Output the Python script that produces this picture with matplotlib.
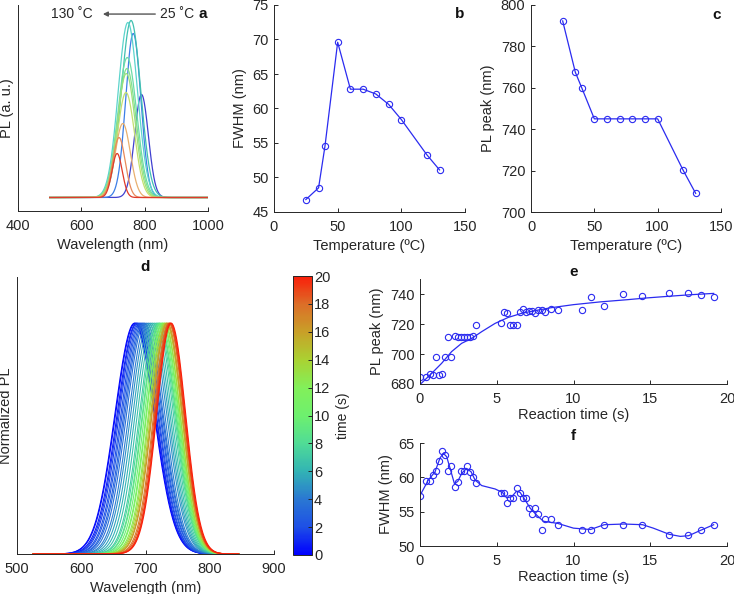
import numpy as np
import matplotlib
matplotlib.use('Agg')
import matplotlib.pyplot as plt
from matplotlib.colors import LinearSegmentedColormap, Normalize
from matplotlib.cm import ScalarMappable

plt.rcParams['font.family'] = ['Liberation Sans', 'DejaVu Sans']
plt.rcParams['font.size'] = 10

# panel a: PL spectra at different temperatures (25 C ... 130 C)
a_peak = [790, 764, 757, 747, 745, 744, 742, 741, 731, 719, 713]
a_height = [103, 164, 177, 175, 140, 129, 124, 105, 74, 60, 44]
a_fwhm = [51, 56, 72, 72, 70, 68, 66, 64, 56, 46, 38]
a_colors = ['#4040d0', '#3c7ee6', '#40c0b0', '#5cd4cc', '#6cdca8', '#80e090',
            '#9ce07c', '#c4e070', '#e8b070', '#e88a5a', '#e03a2a']

# panels b, c: FWHM and PL peak vs temperature
temp = [25, 35, 40, 50, 60, 70, 80, 90, 100, 120, 130]
fwhm_T = [46.8, 48.5, 54.5, 69.6, 62.8, 62.8, 62.1, 60.6, 58.4, 53.3, 51.1]
peak_T = [792.3, 767.5, 760.1, 745, 745, 745, 745, 745, 745, 720.3, 709]

# panel d: normalized spectra coloured by time
d_time = [0, 0.4, 0.8, 1.2, 1.6, 2.0, 2.4, 2.8, 3.2, 3.6, 4.2, 4.8, 5.4, 6.0,
          6.6, 7.2, 7.8, 8.4, 9.0, 9.8, 10.6, 11.4, 12.4, 13.4, 14.4, 15.4,
          16.4, 17.4, 18.4, 19.0, 19.5, 20.0]
d_peak = [683, 684, 686, 687, 689, 691, 693, 695, 697, 699, 702, 705, 708, 711,
          714, 717, 719, 721, 722, 724, 726, 727, 729, 730, 732, 733, 734, 736,
          737, 738, 739, 740]
d_fwhm = [72, 72, 71, 70, 70, 69, 69, 68, 68, 67, 66, 66, 65, 64, 63, 62, 62,
          61, 61, 60, 59, 59, 58, 57, 57, 56, 56, 55, 54, 53, 53, 53]

# panels e, f: reaction time series
t_rx = [0, 0.39, 0.62, 0.84, 1.03, 1.23, 1.44, 1.65, 1.85, 2.05, 2.27, 2.46,
        2.66, 2.87, 3.07, 3.28, 3.48, 3.68, 5.27, 5.47, 5.69, 5.89, 6.09, 6.29,
        6.5, 6.7, 6.9, 7.1, 7.3, 7.5, 7.71, 7.93, 8.13, 8.54, 8.96, 10.54,
        11.17, 12.01, 13.24, 14.46, 16.24, 17.48, 18.28, 19.13]
peak_t = [684.4, 685.0, 686.6, 685.7, 697.9, 685.7, 686.5, 697.9, 711.2, 697.9,
          712.1, 711.3, 711.3, 711.3, 711.3, 711.3, 712.1, 719.4, 720.8, 728.3,
          727.6, 719.4, 719.4, 719.4, 728.3, 729.9, 728.3, 729.0, 729.0, 727.6,
          729.3, 729.3, 727.8, 729.8, 729.1, 729.1, 738.0, 732.0, 740.2, 738.7,
          740.9, 740.9, 739.6, 738.0]
fwhm_t = [57.3, 59.5, 59.4, 60.3, 60.9, 62.4, 63.9, 63.2, 60.9, 61.7, 58.6, 59.3,
          60.9, 60.9, 61.6, 60.8, 60.0, 59.2, 57.7, 57.7, 56.2, 57.0, 57.0, 58.5,
          57.7, 57.0, 57.0, 55.5, 54.7, 55.5, 54.7, 52.4, 54.0, 54.0, 53.1, 52.4,
          52.4, 53.1, 53.1, 53.1, 51.6, 51.6, 52.4, 53.1]

# fitted curves
e_fit_t = [0, 0.76, 1.41, 2.06, 2.71, 3.37, 4.02, 4.89, 5.75, 6.62, 7.49, 8.5,
           10, 11.7, 13.5, 14.8, 16.1, 17.6, 19.13]
e_fit_y = [679.6, 687.1, 693.8, 701.6, 707.1, 710.4, 714.9, 720.4, 724.4, 727.1,
           728.9, 730.8, 732.9, 734.7, 736.2, 737.4, 738.4, 739.5, 740.4]
f_fit_t = [0, 0.54, 0.98, 1.3, 1.52, 1.74, 1.96, 2.24, 2.46, 2.72, 3.04, 3.33,
           3.59, 4.02, 4.9, 5.37, 5.65, 5.98, 6.3, 6.52, 6.85, 7.18, 7.6, 8.04,
           8.96, 10.0, 11.1, 12.0, 13.3, 14.5, 15.2, 16.24, 16.96, 17.5, 18.3, 19.13]
f_fit_y = [57.35, 59.6, 60.8, 62.8, 63.5, 63.0, 61.3, 59.1, 59.4, 60.6, 61.3, 60.8,
           59.6, 58.8, 58.3, 57.8, 57.0, 57.2, 58.0, 57.8, 56.7, 55.5, 54.5, 53.6,
           53.3, 52.6, 52.4, 53.1, 53.2, 53.1, 52.6, 51.7, 51.4, 51.5, 52.3, 53.1]

cbar_colors = ['#0000ff', '#1e50e6', '#2a78d2', '#32b4b4', '#50dc96', '#6ef06e',
               '#82f05a', '#aad232', '#c8a028', '#dc6e28', '#fa1e0a']
time_cmap = LinearSegmentedColormap.from_list('time', cbar_colors)

W, H = 734, 594
GRAY = '#262626'
BLUE = '#2b2bf0'


def box(l, t, r, b):
    return [l / W, 1 - b / H, (r - l) / W, (b - t) / H]


def style(ax):
    for s in ['top', 'right']:
        ax.spines[s].set_visible(False)
    for s in ['left', 'bottom']:
        ax.spines[s].set_color(GRAY)
        ax.spines[s].set_linewidth(0.7)
    ax.tick_params(direction='in', length=3, width=0.7, colors=GRAY,
                   labelsize=10.5)
    ax.tick_params(axis='x', pad=5.5)
    ax.tick_params(axis='y', pad=4)


def gauss(x, c, fw):
    s = fw / 2.3548
    return np.exp(-0.5 * ((x - c) / s) ** 2)


fig = plt.figure(figsize=(W / 100, H / 100), dpi=100)

# ---- a
ax = fig.add_axes(box(18, 5, 208, 211))
style(ax)
wl = np.linspace(500, 1000, 600)
for c, h, fw, col in zip(a_peak, a_height, a_fwhm, a_colors):
    ax.plot(wl, h * gauss(wl, c, fw), color=col, lw=0.9)
ax.set_xlim(400, 1000)
ax.set_ylim(-13.5, 192.5)
ax.set_xticks([400, 600, 800, 1000])
ax.set_yticks([])
ax.set_xlabel('Wavelength (nm)', fontsize=10.5, color=GRAY)
ax.set_ylabel('PL (a. u.)', fontsize=10.5, color=GRAY, labelpad=3)
ax.annotate('', xy=(0.432, 0.956), xytext=(0.737, 0.956), xycoords='axes fraction',
            arrowprops=dict(arrowstyle='-|>', color='#555555', lw=1.0,
                            mutation_scale=7))
ax.text(0.395, 0.956, '130 ˚C', transform=ax.transAxes, ha='right', va='center',
        fontsize=10, color=GRAY)
ax.text(0.745, 0.956, '25 ˚C', transform=ax.transAxes, ha='left', va='center',
        fontsize=10, color=GRAY)
ax.text(0.97, 0.956, 'a', transform=ax.transAxes, ha='center', va='center',
        fontsize=11, fontweight='bold', color='#111111')

# ---- b
ax = fig.add_axes(box(274, 5, 465, 212))
style(ax)
ax.plot(temp, fwhm_T, '-o', color=BLUE, lw=0.9, ms=4.5, mfc='none', mew=0.8)
ax.set_xlim(0, 150)
ax.set_ylim(45, 75)
ax.set_xticks([0, 50, 100, 150])
ax.set_xlabel('Temperature (ºC)', fontsize=10.5, color=GRAY)
ax.set_ylabel('FWHM (nm)', fontsize=10.5, color=GRAY)
ax.text(0.974, 0.956, 'b', transform=ax.transAxes, ha='center', va='center',
        fontsize=11, fontweight='bold', color='#111111')

# ---- c
ax = fig.add_axes(box(531, 5, 721, 212))
style(ax)
ax.plot(temp, peak_T, '-o', color=BLUE, lw=0.9, ms=4.5, mfc='none', mew=0.8)
ax.set_xlim(0, 150)
ax.set_ylim(700, 800)
ax.set_xticks([0, 50, 100, 150])
ax.set_yticks([700, 720, 740, 760, 780, 800])
ax.set_xlabel('Temperature (ºC)', fontsize=10.5, color=GRAY)
ax.set_ylabel('PL peak (nm)', fontsize=10.5, color=GRAY)
ax.text(0.979, 0.952, 'c', transform=ax.transAxes, ha='center', va='center',
        fontsize=11, fontweight='bold', color='#111111')

# ---- d
ax = fig.add_axes(box(17, 277, 274, 554))
style(ax)
wl = np.linspace(525, 845, 500)
norm = Normalize(0, 20)
for t, c, fw in zip(d_time, d_peak, d_fwhm):
    ax.plot(wl, gauss(wl, c, fw), color=time_cmap(norm(t)), lw=0.8)
ax.set_xlim(500, 900)
ax.set_ylim(0, 1.2)
ax.set_xticks([500, 600, 700, 800, 900])
ax.set_yticks([])
ax.set_xlabel('Wavelength (nm)', fontsize=10.5, color=GRAY)
ax.set_ylabel('Normalized PL', fontsize=10.5, color=GRAY, labelpad=3)
ax.set_title('d', fontsize=11, fontweight='bold', color='#111111', pad=4)

cax = fig.add_axes(box(293, 276, 312, 555))
cb = fig.colorbar(ScalarMappable(norm=norm, cmap=time_cmap), cax=cax,
                  ticks=range(0, 21, 2))
cb.outline.set_edgecolor(GRAY)
cb.outline.set_linewidth(0.7)
cax.tick_params(direction='in', length=3, width=0.7, colors=GRAY, labelsize=10.5, pad=1.5)
cb.set_label('time (s)', fontsize=10, color=GRAY, labelpad=4)

# ---- e
ax = fig.add_axes(box(420, 279, 727, 384))
style(ax)
ax.plot(t_rx, peak_t, 'o', color=BLUE, ms=4.5, mfc='none', mew=0.8)
ax.plot(e_fit_t, e_fit_y, '-', color=BLUE, lw=0.9)
ax.set_xlim(0, 20)
ax.set_ylim(680, 750)
ax.set_xticks([0, 5, 10, 15, 20])
ax.set_yticks([680, 700, 720, 740])
ax.set_xlabel('Reaction time (s)', fontsize=10.5, color=GRAY, labelpad=2)
ax.set_ylabel('PL peak (nm)', fontsize=10.5, color=GRAY)
ax.set_title('e', fontsize=11, fontweight='bold', color='#111111', pad=2)

# ---- f
ax = fig.add_axes(box(420, 443, 727, 546))
style(ax)
ax.plot(t_rx, fwhm_t, 'o', color=BLUE, ms=4.5, mfc='none', mew=0.8)
ax.plot(f_fit_t, f_fit_y, '-', color=BLUE, lw=0.9)
ax.set_xlim(0, 20)
ax.set_ylim(50, 65)
ax.set_xticks([0, 5, 10, 15, 20])
ax.set_yticks([50, 55, 60, 65])
ax.set_xlabel('Reaction time (s)', fontsize=10.5, color=GRAY, labelpad=2)
ax.set_ylabel('FWHM (nm)', fontsize=10.5, color=GRAY)
ax.set_title('f', fontsize=11, fontweight='bold', color='#111111', pad=2)

fig.savefig('out.png', dpi=100, facecolor='white')
